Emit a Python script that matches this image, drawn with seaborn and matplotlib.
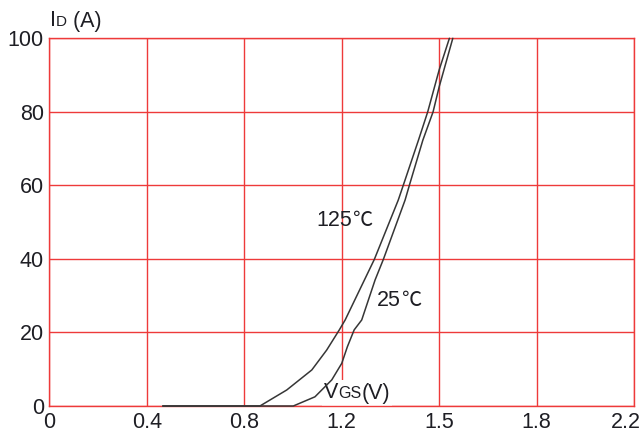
import matplotlib
matplotlib.use("Agg")
import matplotlib.pyplot as plt
import matplotlib.transforms as mtransforms
import numpy as np
import pandas as pd
import seaborn as sns
from matplotlib.offsetbox import TextArea, HPacker, AnnotationBbox

# Axis ticks (x positions are evenly spaced divisions, labelled as printed)
x_tick_pos = [0.0, 0.4, 0.8, 1.2, 1.6, 2.0, 2.4]
x_tick_labels = ["0", "0.4", "0.8", "1.2", "1.5", "1.8", "2.2"]
y_ticks = [0, 20, 40, 60, 80, 100]

# Transfer characteristic, Tj = 125 C
vgs_125 = [0.465, 0.864, 0.974, 1.077, 1.138, 1.190, 1.214, 1.334, 1.432, 1.453,
           1.515, 1.553, 1.600, 1.642]
id_125 = [0.0, 0.0, 4.35, 9.8, 15.2, 20.7, 23.4, 39.9, 56.0, 60.1,
          72.3, 80.0, 91.4, 100.0]

# Transfer characteristic, Tj = 25 C
vgs_25 = [0.465, 1.001, 1.090, 1.159, 1.200, 1.223, 1.251, 1.282, 1.337, 1.371,
          1.460, 1.478, 1.533, 1.575, 1.600, 1.656]
id_25 = [0.0, 0.0, 2.5, 7.1, 11.6, 16.1, 20.7, 23.4, 34.3, 39.9,
         56.0, 60.1, 72.3, 80.0, 86.8, 100.0]

df = pd.concat([
    pd.DataFrame({"vgs": vgs_125, "id": id_125, "tj": "125"}),
    pd.DataFrame({"vgs": vgs_25, "id": id_25, "tj": "25"}),
], ignore_index=True)

sns.set_theme(style="white")
FAMILY = ["Liberation Sans", "Noto Sans CJK SC", "DejaVu Sans"]
CJK = ["Noto Sans CJK SC", "DejaVu Sans"]
plt.rcParams["font.family"] = FAMILY

RED = "#ee3a3a"
INK = "#1e1e24"
CURVE = "#363636"
FS = 15.5

W, H = 643, 433
fig = plt.figure(figsize=(W / 100, H / 100), dpi=100)
fig.patch.set_facecolor("white")
left, right, top, bottom = 49.5, 634.0, 38.3, 406.0
ax = fig.add_axes([left / W, (H - bottom) / H, (right - left) / W, (bottom - top) / H])
ax.set_facecolor("white")

sns.lineplot(data=df, x="vgs", y="id", hue="tj", palette={"125": CURVE, "25": CURVE},
             legend=False, linewidth=1.1, ax=ax, clip_on=False, zorder=6)

ax.set_xlim(0, 2.4)
ax.set_ylim(0, 100)
ax.set_xticks(x_tick_pos)
ax.set_xticklabels(x_tick_labels)
ax.set_yticks(y_ticks)
ax.set_xlabel("")
ax.set_ylabel("")
ax.grid(True, color=RED, linewidth=1.0)
ax.set_axisbelow(True)
for s in ax.spines.values():
    s.set_color(RED)
    s.set_linewidth(1.0)
    s.set_visible(True)
    s.set_zorder(5)
ax.tick_params(axis="both", length=0, labelsize=FS, labelcolor=INK)
ax.tick_params(axis="x", pad=4)
ax.tick_params(axis="y", pad=4)

# keep the last x label inside the canvas
last = ax.get_xticklabels()[-1]
last.set_transform(last.get_transform()
                   + mtransforms.ScaledTranslation(-0.08, 0, fig.dpi_scale_trans))


def mixed_label(parts, xy, align, frame=False, z=7):
    boxes = [TextArea(s, textprops=dict(fontsize=fs, color=INK, family=fam))
             for s, fs, fam in parts]
    pack = HPacker(children=boxes, align="baseline", pad=0, sep=0)
    ab = AnnotationBbox(pack, xy, xycoords="figure pixels", box_alignment=align,
                        frameon=frame, pad=0.15,
                        bboxprops=dict(facecolor="white", edgecolor="none"))
    ab.set_zorder(z)
    if frame:
        ax.add_artist(ab)
    else:
        fig.add_artist(ab)
    return ab


# Axis titles
mixed_label([("I", FS, FAMILY), ("D", 11, FAMILY), (" (A)", FS, FAMILY)],
            (50, H - 21), (0, 0.5))
mixed_label([("V", FS, FAMILY), ("GS", 11.5, FAMILY), ("(V)", FS, FAMILY)],
            (357, H - 393), (0.5, 0.5), frame=True, z=3)

# Temperature labels
mixed_label([("125", FS, FAMILY), ("℃", FS - 1, CJK)], (344, H - 221), (0.5, 0.5))
mixed_label([("25", FS, FAMILY), ("℃", FS - 1, CJK)], (399, H - 301), (0.5, 0.5))

fig.savefig("out.png", dpi=100, facecolor="white")
